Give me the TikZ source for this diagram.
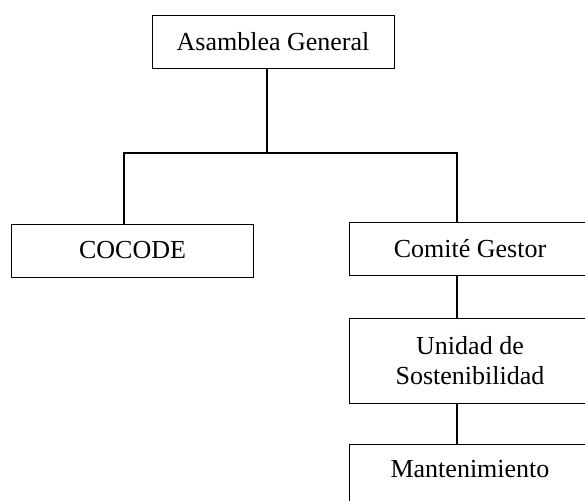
\documentclass[tikz,border=0pt]{standalone}
\usepackage{fontspec}
\setmainfont{Liberation Serif}
\begin{document}
\begin{tikzpicture}[x=1pt,y=-1pt,
  caja/.style={draw, line width=0.9pt, inner sep=0pt, minimum width=242pt,
    minimum height=53pt, align=center, font=\fontsize{26}{30}\selectfont},
  linea/.style={line width=1.1pt}]
\clip (0,0) rectangle (585,500);
    \node[caja] (ag) at (273,41.5) {Asamblea General};
    \node[caja] (cocode) at (132.5,250.5) {COCODE};
    \node[caja] (comite) at (470,249) {Comité Gestor};
    \node[caja, minimum height=85pt, text depth=0pt] (unidad) at (470,360.5) {Unidad de\\Sostenibilidad};
    \node[caja, anchor=north, minimum height=66pt, text depth=18pt] (mant) at (470,444) {Mantenimiento};
    \coordinate (busL) at (124,153);
    \coordinate (busR) at (457,153);
    \draw[linea] ([xshift=-6pt]ag.south) -- ([xshift=-6pt]ag.south |- busL);
    \draw[linea] (cocode.north -| busL) -- (busL) -- (busR) -- (comite.north -| busR);
    \draw[linea] (comite.south -| busR) -- (unidad.north -| busR);
    \draw[linea] (unidad.south -| busR) -- (mant.north -| busR);
\end{tikzpicture}
\end{document}
